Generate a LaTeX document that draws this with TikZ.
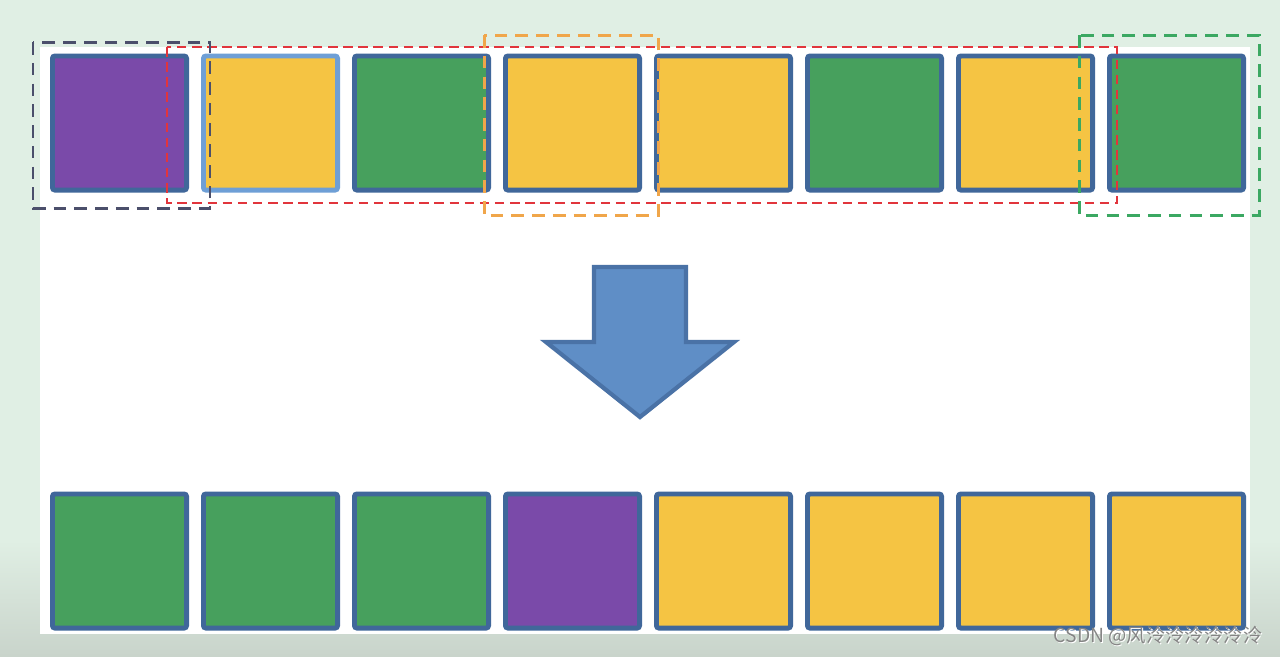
\documentclass[tikz,border=0pt]{standalone}
\usepackage{fontspec}
\usepackage{tikz}
\usetikzlibrary{calc}
\newfontfamily\cjkfont{Noto Sans CJK SC}

\definecolor{cellborder}{HTML}{40679A}
\definecolor{lightborder}{HTML}{6E9FD6}
\definecolor{cellpurple}{HTML}{7A4AA9}
\definecolor{cellyellow}{HTML}{F5C443}
\definecolor{cellgreen}{HTML}{47A05D}
\definecolor{bgtop}{HTML}{E0EFE4}
\definecolor{bgbottom}{HTML}{C9D4CB}
\definecolor{arrowfill}{HTML}{5F8EC6}
\definecolor{arrowline}{HTML}{4A72A6}
\definecolor{boxgray}{HTML}{4B4F6B}
\definecolor{boxred}{HTML}{E1353C}
\definecolor{boxorange}{HTML}{F0A64A}
\definecolor{boxgreen}{HTML}{3BA862}

\tikzset{
    cell/.style={draw=cellborder, line width=1.4pt, rounded corners=0.7pt,
                 minimum size=1.34cm, inner sep=0pt},
    purplecell/.style={cell, fill=cellpurple},
    yellowcell/.style={cell, fill=cellyellow},
    greencell/.style={cell, fill=cellgreen},
    pick/.style={dash pattern=on 3.6pt off 2.3pt, line width=0.85pt},
    thinpick/.style={dash pattern=on 2.7pt off 1.6pt, line width=0.7pt},
}

\begin{document}
                \begin{tikzpicture}[x=0.01cm, y=-0.01cm]
                    \useasboundingbox (0,0) rectangle (1280,656);
                    % background
                    \fill[bgtop] (0,0) rectangle (1280,656);
                    \shade[top color=bgtop, bottom color=bgbottom] (0,540) rectangle (1280,656);
                    \fill[white] (40,47) rectangle (1250,634);

                    % row before
                    \node[purplecell] (t1) at (119.5,123) {};
                    \node[yellowcell, draw=lightborder] (t2) at (270.5,123) {};
                    \node[greencell] (t3) at (421.5,123) {};
                    \node[yellowcell] (t4) at (572.5,123) {};
                    \node[yellowcell] (t5) at (723.5,123) {};
                    \node[greencell] (t6) at (874.5,123) {};
                    \node[yellowcell] (t7) at (1025.5,123) {};
                    \node[greencell] (t8) at (1176.5,123) {};

                    % dashed frames
                    \draw[thinpick, boxred] (167,47) rectangle (1117,203);
                    \draw[pick, boxgray] (33,42) rectangle (210,208);
                    \draw[pick, boxorange] (484,35) rectangle (658,215);
                    \draw[pick, boxgreen] (1079,35) rectangle (1259,215);

                    % big arrow
                    \draw[fill=arrowfill, draw=arrowline, line width=1.2pt, line join=miter]
                        (594,267) -- (686,267) -- (686,342) -- (734,342) -- (640,417)
                        -- (546,342) -- (594,342) -- cycle;

                    % row after
                    \node[greencell] (b1) at (119.5,561) {};
                    \node[greencell] (b2) at (270.5,561) {};
                    \node[greencell] (b3) at (421.5,561) {};
                    \node[purplecell] (b4) at (572.5,561) {};
                    \node[yellowcell] (b5) at (723.5,561) {};
                    \node[yellowcell] (b6) at (874.5,561) {};
                    \node[yellowcell] (b7) at (1025.5,561) {};
                    \node[yellowcell] (b8) at (1176.5,561) {};

                    % watermark
                    \node[text=white, font=\cjkfont\fontsize{5.5pt}{6pt}\selectfont, inner sep=0pt]
                        (markshadow) at (1159,637) {CSDN @风泠泠泠泠泠泠};
                    \node[text=black!48, font=\cjkfont\fontsize{5.5pt}{6pt}\selectfont, inner sep=0pt]
                        (mark) at (1158,636) {CSDN @风泠泠泠泠泠泠};
                \end{tikzpicture}
\end{document}
